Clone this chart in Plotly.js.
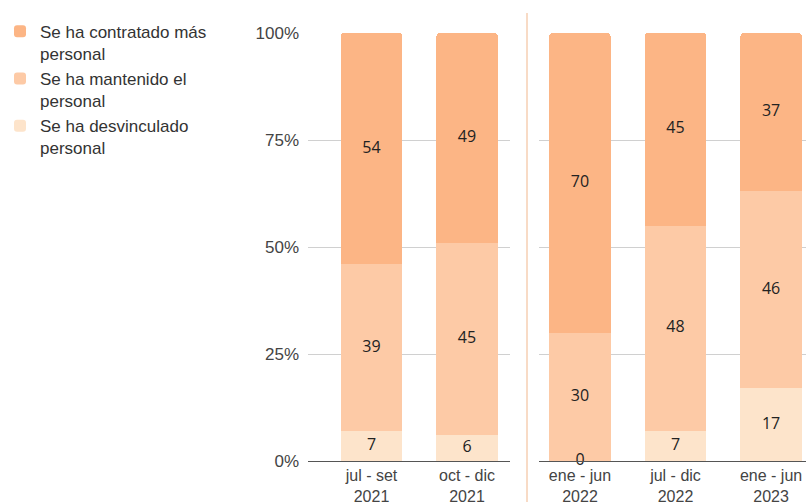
<!DOCTYPE html>
<html>
<head>
<meta charset="utf-8">
<script src="https://cdn.plot.ly/plotly-3.0.1.min.js"></script>
<style>html,body{margin:0;padding:0;background:#fff;}#chart{width:806px;height:502px;}</style>
</head>
<body>
<div id="chart"></div>
<script>
// Data
const periodos = ["jul - set<br>2021", "oct - dic<br>2021", "ene - jun<br>2022", "jul - dic<br>2022", "ene - jun<br>2023"];
const grupo = [1, 1, 2, 2, 2];
const seriesNames = ["Se ha contratado más<br>personal", "Se ha mantenido el<br>personal", "Se ha desvinculado<br>personal"];
const contratado = [54, 49, 70, 45, 37];
const mantenido = [39, 45, 30, 48, 46];
const desvinculado = [7, 6, 0, 7, 17];
const yTicks = [0, 25, 50, 75, 100];
const yTickText = ["0%", "25%", "50%", "75%", "100%"];

const colors = {contr: "#fcb585", mant: "#fdcaa6", desv: "#fde4cb"};
const stack = [
  {name: seriesNames[2], vals: desvinculado, color: colors.desv},
  {name: seriesNames[1], vals: mantenido, color: colors.mant},
  {name: seriesNames[0], vals: contratado, color: colors.contr}
];

const traces = [];
[1, 2].forEach(g => {
  const idx = periodos.map((p, i) => i).filter(i => grupo[i] === g);
  const xs = idx.map(i => periodos[i]);
  const xa = g === 1 ? "x" : "x2", ya = g === 1 ? "y" : "y2";
  const base = idx.map(() => 0);
  stack.forEach((s, k) => {
    const ys = idx.map(i => s.vals[i]);
    traces.push({
      type: "bar", x: xs, y: ys, name: s.name, xaxis: xa, yaxis: ya,
      marker: {color: s.color, line: {width: 0}},
      width: 0.64, showlegend: g === 1,
      hoverinfo: "skip"
    });
    traces.push({
      type: "scatter", mode: "text", x: xs,
      y: ys.map((v, j) => base[j] + v / 2),
      text: ys.map(v => String(v)), xaxis: xa, yaxis: ya,
      textfont: {family: "Open Sans, sans-serif", size: 16, color: "#222"},
      showlegend: false, hoverinfo: "skip", cliponaxis: false
    });
    ys.forEach((v, j) => base[j] += v);
  });
});

const yTickFont = {family: "Liberation Sans, Arial, sans-serif", size: 17, color: "#444"};
const xTickFont = {family: "Liberation Sans, Arial, sans-serif", size: 16, color: "#444"};
const layout = {
  width: 806, height: 502,
  margin: {l: 0, r: 0, t: 33, b: 41},
  paper_bgcolor: "#fff", plot_bgcolor: "#fff",
  barmode: "stack", barcornerradius: 3,
  showlegend: true,
  legend: {x: 0, y: 1.045, xanchor: "left", yanchor: "top", traceorder: "reversed",
           valign: "top",
           font: {family: "Liberation Sans, Arial, sans-serif", size: 17, color: "#333"}},
  xaxis: {domain: [308/806, 510/806], type: "category", range: [-0.665, 1.45],
          showline: true, linecolor: "#555", linewidth: 1, showgrid: false, zeroline: false,
          tickfont: xTickFont, automargin: false, fixedrange: true},
  xaxis2: {domain: [539/806, 1], type: "category", range: [-0.429, 2.366],
          showline: true, linecolor: "#555", linewidth: 1, showgrid: false, zeroline: false,
          tickfont: xTickFont, automargin: false, fixedrange: true},
  yaxis: {anchor: "x", range: [0, 100], tickvals: yTicks, ticktext: yTickText,
          showgrid: true, gridcolor: "#d0d0d0", zeroline: false, tickfont: yTickFont,
          ticklabelstandoff: 8, automargin: false, fixedrange: true},
  yaxis2: {anchor: "x2", range: [0, 100], tickvals: yTicks, showticklabels: false,
          showgrid: true, gridcolor: "#d0d0d0", zeroline: false, automargin: false, fixedrange: true},
  shapes: [{type: "line", xref: "paper", yref: "paper", x0: 527/806, x1: 527/806,
            y0: -0.1, y1: 1.047, line: {color: "#f6cfb3", width: 1.5}}]
};
Plotly.newPlot("chart", traces, layout, {displayModeBar: false, staticPlot: true});
</script>
</body>
</html>
